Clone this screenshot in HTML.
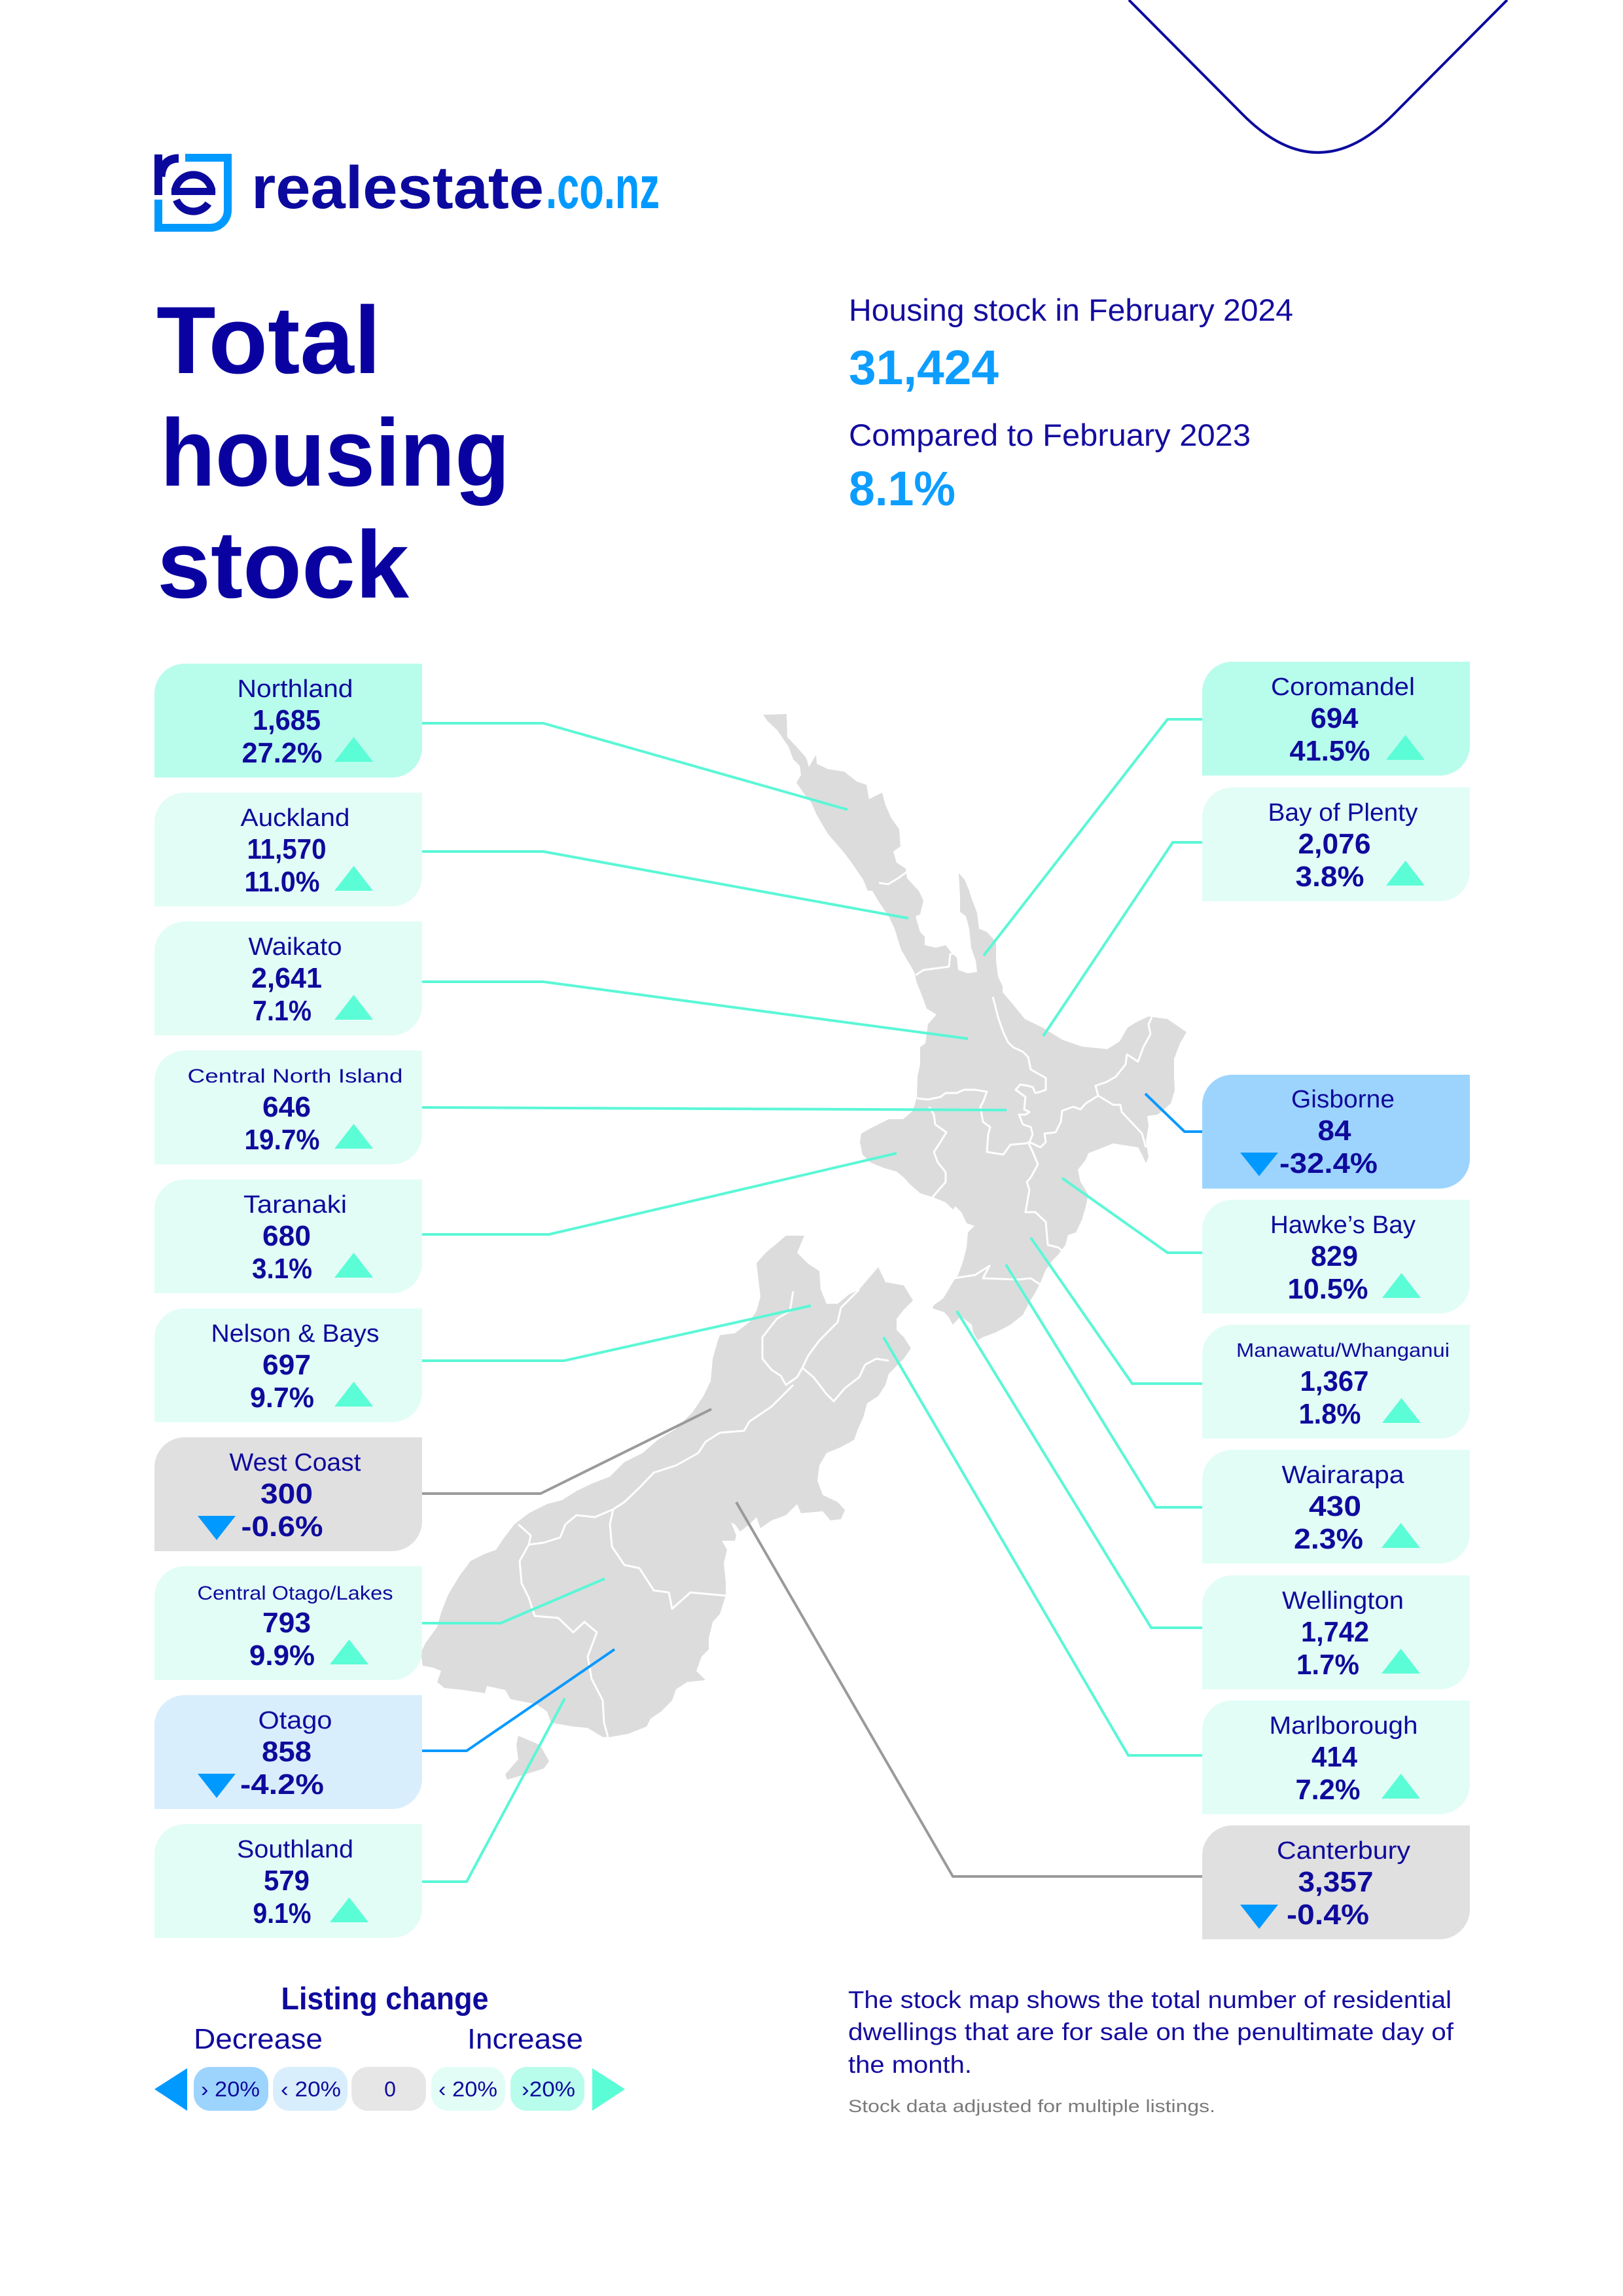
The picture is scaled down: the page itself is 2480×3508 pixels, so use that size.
<!DOCTYPE html>
<html><head><meta charset="utf-8"><style>
html,body{margin:0;padding:0;background:#fff;}
svg{display:block;}
text{font-family:"Liberation Sans",sans-serif;}
</style></head><body>
<svg xmlns="http://www.w3.org/2000/svg" width="2480" height="3508" viewBox="0 0 2480 3508">
<rect width="2480" height="3508" fill="#fff"/>
<!-- top V line -->
<path d="M1725,0 L1900,176 Q2014,290 2128,176 L2303,0" fill="none" stroke="#0c0a9e" stroke-width="4"/>
<!-- logo -->
<rect x="236" y="236" width="12" height="62" fill="#0c0a9e"/>
<path d="M246,270 C247,251 257,242 273,242" fill="none" stroke="#0c0a9e" stroke-width="13"/>
<path d="M267.5,295 A28,28 0 0 1 323.5,295" fill="none" stroke="#0c0a9e" stroke-width="11.5"/>
<rect x="262" y="287" width="67" height="11" fill="#0c0a9e"/>
<path d="M269.5,305.5 A28,28 0 0 0 318.4,311" fill="none" stroke="#0c0a9e" stroke-width="11.5"/>
<path d="M242,305 V348 H321 A27,27 0 0 0 348,321 V241 H283" fill="none" stroke="#0099ff" stroke-width="12"/>
<text x="384" y="318" font-size="92" font-weight="700" fill="#0c0a9e" textLength="447" lengthAdjust="spacingAndGlyphs">realestate</text>
<text x="834" y="318" font-size="92" font-weight="700" fill="#0099ff" textLength="174" lengthAdjust="spacingAndGlyphs">.co.nz</text>
<!-- title -->
<g font-weight="700" font-size="146" fill="#0a02a0">
<text x="239" y="570" textLength="343" lengthAdjust="spacingAndGlyphs">Total</text>
<text x="245" y="742" textLength="534" lengthAdjust="spacingAndGlyphs">housing</text>
<text x="240" y="913" textLength="385" lengthAdjust="spacingAndGlyphs">stock</text>
</g>
<!-- header stats -->
<text x="1297" y="490" font-size="47" fill="#140c9e" textLength="679" lengthAdjust="spacingAndGlyphs">Housing stock in February 2024</text>
<text x="1297" y="587" font-size="74" font-weight="700" fill="#0d9dff" textLength="229" lengthAdjust="spacingAndGlyphs">31,424</text>
<text x="1297" y="681" font-size="47" fill="#140c9e" textLength="614" lengthAdjust="spacingAndGlyphs">Compared to February 2023</text>
<text x="1297" y="772" font-size="74" font-weight="700" fill="#0d9dff" textLength="163" lengthAdjust="spacingAndGlyphs">8.1%</text>

<!-- MAP -->
<g fill="#dcdcdc">
<polygon points="1166,1092 1202,1091 1203,1126 1219,1143 1232,1158 1236,1172 1247,1153 1248,1167 1265,1175 1290,1179 1309,1194 1324,1199 1328,1221 1348,1211 1353,1230 1362,1250 1374,1267 1376,1293 1365,1301 1370,1318 1384,1327 1386,1342 1404,1361 1411,1376 1406,1397 1399,1400 1406,1424 1413,1431 1413,1444 1430,1448 1445,1444 1454,1456 1462,1463 1464,1482 1479,1487 1493,1485 1491,1468 1484,1448 1481,1419 1476,1400 1467,1393 1467,1371 1465,1334 1474,1344 1481,1361 1484,1371 1493,1395 1496,1419 1508,1424 1522,1439 1522,1468 1525,1492 1532,1507 1532,1516 1549,1536 1566,1557 1593,1570 1624,1589 1653,1599 1692,1603 1711,1591 1723,1570 1736,1562 1755,1553 1784,1557 1803,1570 1813,1577 1803,1594 1794,1618 1794,1645 1795,1666 1789,1686 1769,1703 1753,1705 1755,1720 1751,1744 1755,1768 1751,1777 1745,1764 1739,1753 1701,1747 1663,1762 1659,1772 1647,1787 1651,1806 1663,1825 1659,1844 1653,1864 1644,1883 1632,1887 1628,1902 1617,1917 1609,1925 1598,1940 1590,1959 1582,1975 1575,1986 1563,2009 1544,2024 1521,2036 1502,2043 1494,2048 1487,2036 1485,2024 1468,2011 1456,2024 1450,2013 1443,2005 1425,1999 1427,1994 1441,1984 1448,1973 1456,1959 1464,1948 1471,1929 1477,1906 1479,1883 1489,1873 1477,1869 1469,1852 1460,1843 1456,1848 1445,1837 1425,1829 1406,1823 1391,1810 1381,1799 1370,1790 1349,1784 1330,1776 1318,1764 1314,1745 1316,1732 1330,1724 1358,1710 1380,1710 1395,1697 1401,1676 1402,1645 1406,1626 1406,1600 1414,1594 1418,1565 1431,1550 1416,1541 1408,1519 1401,1502 1397,1485 1384,1463 1377,1451 1367,1419 1358,1400 1343,1378 1333,1361 1326,1361 1319,1344 1304,1322 1290,1303 1265,1274 1248,1245 1239,1225 1231,1216 1217,1196 1224,1184 1222,1170 1212,1160 1205,1141 1188,1116 1173,1102"/>
<polygon points="1201,1888 1229,1888 1218,1914 1235,1931 1252,1942 1254,1970 1263,1992 1280,1992 1297,1978 1313,1970 1342,1936 1353,1959 1381,1964 1395,1987 1381,2001 1370,2015 1370,2032 1381,2043 1392,2060 1381,2076 1358,2099 1353,2116 1342,2133 1325,2144 1319,2166 1311,2183 1305,2200 1285,2211 1263,2220 1252,2239 1249,2262 1257,2284 1280,2295 1291,2307 1285,2321 1269,2323 1257,2309 1224,2312 1218,2298 1201,2315 1179,2323 1162,2335 1156,2318 1145,2329 1131,2340 1123,2329 1117,2326 1125,2346 1123,2354 1103,2354 1111,2368 1106,2388 1109,2419 1109,2438 1106,2447 1100,2466 1089,2478 1083,2503 1083,2520 1072,2531 1064,2553 1078,2567 1050,2570 1033,2581 1027,2598 1010,2615 994,2626 988,2638 960,2649 932,2654 921,2654 898,2640 876,2638 842,2632 836,2615 820,2604 780,2596 772,2582 744,2576 741,2587 707,2582 679,2579 668,2570 674,2553 662,2548 646,2545 643,2525 651,2509 668,2486 674,2464 685,2436 702,2408 719,2385 741,2374 758,2368 769,2351 786,2329 808,2312 836,2298 859,2292 881,2278 904,2267 932,2256 954,2234 982,2220 1005,2200 1033,2183 1058,2158 1075,2133 1086,2110 1089,2076 1097,2048 1100,2040 1123,2037 1145,2020 1156,2003 1162,1981 1156,1930 1170,1914 1187,1900"/>
<polygon points="792,2652 825,2666 839,2691 831,2702 803,2711 775,2719 772,2711 792,2688 789,2666"/>
</g>
<g fill="none" stroke="#ffffff" stroke-width="3" stroke-linejoin="round">
<polyline points="1386,1332 1372,1342 1357,1351 1343,1349"/>
<polyline points="1399,1490 1411,1482 1450,1477 1452,1458 1459,1456"/>
<polyline points="1517,1523 1521,1538 1525,1554 1533,1577 1540,1592 1548,1600 1563,1607 1571,1615 1575,1634 1598,1647 1598,1665 1590,1668 1582,1670 1578,1661 1571,1659 1559,1657 1552,1665 1567,1676 1565,1695 1573,1699 1567,1703 1557,1703 1563,1718 1575,1722 1578,1733 1573,1745"/>
<polyline points="1401,1678 1418,1680 1437,1676 1445,1670 1462,1670 1473,1665 1490,1665 1508,1668 1502,1684 1498,1691 1502,1714 1513,1722 1510,1733 1508,1760 1533,1764 1544,1749 1567,1747 1573,1745 1590,1753 1598,1745 1596,1732 1613,1730 1621,1714 1623,1697 1640,1691 1651,1695 1659,1686 1678,1674 1674,1659 1691,1653 1705,1645 1720,1626 1722,1611 1739,1622 1747,1600 1758,1580 1755,1565 1760,1554"/>
<polyline points="1678,1674 1701,1688 1712,1688 1714,1699 1732,1718 1745,1732 1751,1753"/>
<polyline points="1420,1691 1427,1703 1429,1718 1446,1730 1437,1745 1427,1760 1433,1776 1445,1791 1445,1806 1425,1829"/>
<polyline points="1571,1745 1578,1760 1586,1779 1575,1799 1569,1806 1573,1818 1567,1852 1582,1852 1598,1867 1601,1902 1617,1906 1626,1913"/>
<polyline points="1458,1953 1490,1948 1512,1934 1502,1953 1556,1955 1575,1953 1590,1963"/>
<polyline points="1212,1973 1207,2003 1187,2015 1165,2043 1165,2076 1179,2093 1193,2102 1201,2116 1218,2104 1226,2090"/>
<polyline points="1226,2090 1235,2071 1252,2048 1280,2020 1285,1998 1313,1970"/>
<polyline points="1226,2090 1243,2104 1263,2130 1274,2141 1291,2121 1313,2104 1322,2085 1339,2076 1358,2079"/>
<polyline points="1212,2116 1179,2149 1145,2172 1137,2186 1100,2189 1078,2203 1067,2220 1033,2239 999,2250 977,2273 954,2295 937,2306 909,2318 881,2315 864,2329 856,2349 831,2357 808,2360"/>
<polyline points="808,2360 811,2346 792,2329"/>
<polyline points="937,2306 932,2329 935,2363 954,2391 977,2396 999,2430 1022,2433 1027,2458 1055,2433 1109,2438"/>
<polyline points="808,2360 794,2385 797,2419 808,2441 817,2469 853,2472 876,2494 893,2478 912,2494 898,2531 904,2565 921,2598 923,2632 929,2654"/>
</g>

<!-- connector lines -->
<g fill="none" stroke-width="4" stroke-linejoin="miter">
<g stroke="#5af7d6">
<path d="M645,1105 H830 L1295,1237"/>
<path d="M645,1301 H830 L1388,1403"/>
<path d="M645,1500 H830 L1479,1587"/>
<path d="M645,1692 L1538,1696"/>
<path d="M645,1886 H839 L1370,1762"/>
<path d="M645,2079 H862 L1239,1995"/>
<path d="M645,2480 H765 L924,2412"/>
<path d="M645,2875 H713 L863,2595"/>
<path d="M1837,1099 H1784 L1503,1460"/>
<path d="M1837,1287 H1792 L1594,1583"/>
<path d="M1837,1914 H1784 L1623,1800"/>
<path d="M1837,2114 H1730 L1575,1891"/>
<path d="M1837,2303 H1766 L1537,1932"/>
<path d="M1837,2487 H1759 L1462,2003"/>
<path d="M1837,2682 H1724 L1350,2043"/>
</g>
<g stroke="#9a9a9a">
<path d="M645,2282 H826 L1087,2153"/>
<path d="M1837,2867 H1456 L1125,2295"/>
</g>
<g stroke="#0a99ff">
<path d="M645,2675 H713 L939,2520"/>
<path d="M1837,1729 H1810 L1750,1671"/>
</g>
</g>

<!-- BOXES LEFT -->
<g fill="#0f0a9c">
<path d="M236,1060 A46,46 0 0 1 282,1014 H645 V1142 A46,46 0 0 1 599,1188 H236 Z" fill="#b8fcec"/>
<text x="451" y="1065" font-size="38" text-anchor="middle" textLength="177" lengthAdjust="spacingAndGlyphs">Northland</text>
<text x="438" y="1115" font-size="44" font-weight="700" text-anchor="middle" textLength="104" lengthAdjust="spacingAndGlyphs">1,685</text>
<text x="431" y="1165" font-size="44" font-weight="700" text-anchor="middle" textLength="123" lengthAdjust="spacingAndGlyphs">27.2%</text>
<polygon points="511,1164 570,1164 540.5,1126" fill="#5afdd6"/>

<path d="M236,1257 A46,46 0 0 1 282,1211 H645 V1339 A46,46 0 0 1 599,1385 H236 Z" fill="#e2fdf6"/>
<text x="451" y="1262" font-size="38" text-anchor="middle" textLength="167" lengthAdjust="spacingAndGlyphs">Auckland</text>
<text x="438" y="1312" font-size="44" font-weight="700" text-anchor="middle" textLength="121" lengthAdjust="spacingAndGlyphs">11,570</text>
<text x="431" y="1362" font-size="44" font-weight="700" text-anchor="middle" textLength="115" lengthAdjust="spacingAndGlyphs">11.0%</text>
<polygon points="511,1361 570,1361 540.5,1323" fill="#5afdd6"/>

<path d="M236,1454 A46,46 0 0 1 282,1408 H645 V1536 A46,46 0 0 1 599,1582 H236 Z" fill="#e2fdf6"/>
<text x="451" y="1459" font-size="38" text-anchor="middle" textLength="143" lengthAdjust="spacingAndGlyphs">Waikato</text>
<text x="438" y="1509" font-size="44" font-weight="700" text-anchor="middle" textLength="108" lengthAdjust="spacingAndGlyphs">2,641</text>
<text x="431" y="1559" font-size="44" font-weight="700" text-anchor="middle" textLength="90" lengthAdjust="spacingAndGlyphs">7.1%</text>
<polygon points="511,1558 570,1558 540.5,1520" fill="#5afdd6"/>

<path d="M236,1651 A46,46 0 0 1 282,1605 H645 V1733 A46,46 0 0 1 599,1779 H236 Z" fill="#e2fdf6"/>
<text x="451" y="1654" font-size="30" text-anchor="middle" textLength="329" lengthAdjust="spacingAndGlyphs">Central North Island</text>
<text x="438" y="1706" font-size="44" font-weight="700" text-anchor="middle" textLength="74" lengthAdjust="spacingAndGlyphs">646</text>
<text x="431" y="1756" font-size="44" font-weight="700" text-anchor="middle" textLength="115" lengthAdjust="spacingAndGlyphs">19.7%</text>
<polygon points="511,1755 570,1755 540.5,1717" fill="#5afdd6"/>

<path d="M236,1848 A46,46 0 0 1 282,1802 H645 V1930 A46,46 0 0 1 599,1976 H236 Z" fill="#e2fdf6"/>
<text x="451" y="1853" font-size="38" text-anchor="middle" textLength="158" lengthAdjust="spacingAndGlyphs">Taranaki</text>
<text x="438" y="1903" font-size="44" font-weight="700" text-anchor="middle" textLength="74" lengthAdjust="spacingAndGlyphs">680</text>
<text x="431" y="1953" font-size="44" font-weight="700" text-anchor="middle" textLength="92" lengthAdjust="spacingAndGlyphs">3.1%</text>
<polygon points="511,1952 570,1952 540.5,1914" fill="#5afdd6"/>

<path d="M236,2045 A46,46 0 0 1 282,1999 H645 V2127 A46,46 0 0 1 599,2173 H236 Z" fill="#e2fdf6"/>
<text x="451" y="2050" font-size="38" text-anchor="middle" textLength="257" lengthAdjust="spacingAndGlyphs">Nelson &amp; Bays</text>
<text x="438" y="2100" font-size="44" font-weight="700" text-anchor="middle" textLength="74" lengthAdjust="spacingAndGlyphs">697</text>
<text x="431" y="2150" font-size="44" font-weight="700" text-anchor="middle" textLength="98" lengthAdjust="spacingAndGlyphs">9.7%</text>
<polygon points="511,2149 570,2149 540.5,2111" fill="#5afdd6"/>

<path d="M236,2242 A46,46 0 0 1 282,2196 H645 V2324 A46,46 0 0 1 599,2370 H236 Z" fill="#e0e0e0"/>
<text x="451" y="2247" font-size="38" text-anchor="middle" textLength="201" lengthAdjust="spacingAndGlyphs">West Coast</text>
<text x="438" y="2297" font-size="44" font-weight="700" text-anchor="middle" textLength="80" lengthAdjust="spacingAndGlyphs">300</text>
<text x="431" y="2347" font-size="44" font-weight="700" text-anchor="middle" textLength="125" lengthAdjust="spacingAndGlyphs">-0.6%</text>
<polygon points="302,2316 360,2316 331,2353" fill="#0099ff"/>

<path d="M236,2439 A46,46 0 0 1 282,2393 H645 V2521 A46,46 0 0 1 599,2567 H236 Z" fill="#e2fdf6"/>
<text x="451" y="2444" font-size="30" text-anchor="middle" textLength="299" lengthAdjust="spacingAndGlyphs">Central Otago/Lakes</text>
<text x="438" y="2494" font-size="44" font-weight="700" text-anchor="middle" textLength="74" lengthAdjust="spacingAndGlyphs">793</text>
<text x="431" y="2544" font-size="44" font-weight="700" text-anchor="middle" textLength="100" lengthAdjust="spacingAndGlyphs">9.9%</text>
<polygon points="504,2543 563,2543 533.5,2505" fill="#5afdd6"/>

<path d="M236,2636 A46,46 0 0 1 282,2590 H645 V2718 A46,46 0 0 1 599,2764 H236 Z" fill="#d9eefc"/>
<text x="451" y="2641" font-size="38" text-anchor="middle" textLength="113" lengthAdjust="spacingAndGlyphs">Otago</text>
<text x="438" y="2691" font-size="44" font-weight="700" text-anchor="middle" textLength="76" lengthAdjust="spacingAndGlyphs">858</text>
<text x="431" y="2741" font-size="44" font-weight="700" text-anchor="middle" textLength="128" lengthAdjust="spacingAndGlyphs">-4.2%</text>
<polygon points="302,2710 360,2710 331,2747" fill="#0099ff"/>

<path d="M236,2833 A46,46 0 0 1 282,2787 H645 V2915 A46,46 0 0 1 599,2961 H236 Z" fill="#e2fdf6"/>
<text x="451" y="2838" font-size="38" text-anchor="middle" textLength="178" lengthAdjust="spacingAndGlyphs">Southland</text>
<text x="438" y="2888" font-size="44" font-weight="700" text-anchor="middle" textLength="70" lengthAdjust="spacingAndGlyphs">579</text>
<text x="431" y="2938" font-size="44" font-weight="700" text-anchor="middle" textLength="89" lengthAdjust="spacingAndGlyphs">9.1%</text>
<polygon points="504,2937 563,2937 533.5,2899" fill="#5afdd6"/>

<!-- BOXES RIGHT -->
<path d="M1837,1057 A46,46 0 0 1 1883,1011 H2246 V1139 A46,46 0 0 1 2200,1185 H1837 Z" fill="#b8fcec"/>
<text x="2052" y="1062" font-size="38" text-anchor="middle" textLength="220" lengthAdjust="spacingAndGlyphs">Coromandel</text>
<text x="2039" y="1112" font-size="44" font-weight="700" text-anchor="middle" textLength="73" lengthAdjust="spacingAndGlyphs">694</text>
<text x="2032" y="1162" font-size="44" font-weight="700" text-anchor="middle" textLength="123" lengthAdjust="spacingAndGlyphs">41.5%</text>
<polygon points="2118,1161 2177,1161 2147.5,1123" fill="#5afdd6"/>

<path d="M1837,1249 A46,46 0 0 1 1883,1203 H2246 V1331 A46,46 0 0 1 2200,1377 H1837 Z" fill="#e2fdf6"/>
<text x="2052" y="1254" font-size="38" text-anchor="middle" textLength="229" lengthAdjust="spacingAndGlyphs">Bay of Plenty</text>
<text x="2039" y="1304" font-size="44" font-weight="700" text-anchor="middle" textLength="111" lengthAdjust="spacingAndGlyphs">2,076</text>
<text x="2032" y="1354" font-size="44" font-weight="700" text-anchor="middle" textLength="105" lengthAdjust="spacingAndGlyphs">3.8%</text>
<polygon points="2118,1353 2177,1353 2147.5,1315" fill="#5afdd6"/>

<path d="M1837,1688 A46,46 0 0 1 1883,1642 H2246 V1770 A46,46 0 0 1 2200,1816 H1837 Z" fill="#9dd4fe"/>
<text x="2052" y="1692" font-size="38" text-anchor="middle" textLength="158" lengthAdjust="spacingAndGlyphs">Gisborne</text>
<text x="2039" y="1742" font-size="44" font-weight="700" text-anchor="middle" textLength="51" lengthAdjust="spacingAndGlyphs">84</text>
<text x="2030" y="1792" font-size="44" font-weight="700" text-anchor="middle" textLength="150" lengthAdjust="spacingAndGlyphs">-32.4%</text>
<polygon points="1895,1761 1953,1761 1924,1797" fill="#0099ff"/>

<path d="M1837,1879 A46,46 0 0 1 1883,1833 H2246 V1961 A46,46 0 0 1 2200,2007 H1837 Z" fill="#e2fdf6"/>
<text x="2052" y="1884" font-size="38" text-anchor="middle" textLength="222" lengthAdjust="spacingAndGlyphs">Hawke’s Bay</text>
<text x="2039" y="1934" font-size="44" font-weight="700" text-anchor="middle" textLength="72" lengthAdjust="spacingAndGlyphs">829</text>
<text x="2029" y="1984" font-size="44" font-weight="700" text-anchor="middle" textLength="123" lengthAdjust="spacingAndGlyphs">10.5%</text>
<polygon points="2112,1983 2171,1983 2141.5,1945" fill="#5afdd6"/>

<path d="M1837,2070 A46,46 0 0 1 1883,2024 H2246 V2152 A46,46 0 0 1 2200,2198 H1837 Z" fill="#e2fdf6"/>
<text x="2052" y="2073" font-size="30" text-anchor="middle" textLength="326" lengthAdjust="spacingAndGlyphs">Manawatu/Whanganui</text>
<text x="2039" y="2125" font-size="44" font-weight="700" text-anchor="middle" textLength="105" lengthAdjust="spacingAndGlyphs">1,367</text>
<text x="2032" y="2175" font-size="44" font-weight="700" text-anchor="middle" textLength="95" lengthAdjust="spacingAndGlyphs">1.8%</text>
<polygon points="2112,2174 2171,2174 2141.5,2136" fill="#5afdd6"/>

<path d="M1837,2261 A46,46 0 0 1 1883,2215 H2246 V2343 A46,46 0 0 1 2200,2389 H1837 Z" fill="#e2fdf6"/>
<text x="2052" y="2266" font-size="38" text-anchor="middle" textLength="187" lengthAdjust="spacingAndGlyphs">Wairarapa</text>
<text x="2040" y="2316" font-size="44" font-weight="700" text-anchor="middle" textLength="80" lengthAdjust="spacingAndGlyphs">430</text>
<text x="2030" y="2366" font-size="44" font-weight="700" text-anchor="middle" textLength="106" lengthAdjust="spacingAndGlyphs">2.3%</text>
<polygon points="2111,2365 2170,2365 2140.5,2327" fill="#5afdd6"/>

<path d="M1837,2453 A46,46 0 0 1 1883,2407 H2246 V2535 A46,46 0 0 1 2200,2581 H1837 Z" fill="#e2fdf6"/>
<text x="2052" y="2458" font-size="38" text-anchor="middle" textLength="186" lengthAdjust="spacingAndGlyphs">Wellington</text>
<text x="2040" y="2508" font-size="44" font-weight="700" text-anchor="middle" textLength="104" lengthAdjust="spacingAndGlyphs">1,742</text>
<text x="2029" y="2558" font-size="44" font-weight="700" text-anchor="middle" textLength="96" lengthAdjust="spacingAndGlyphs">1.7%</text>
<polygon points="2111,2557 2170,2557 2140.5,2519" fill="#5afdd6"/>

<path d="M1837,2644 A46,46 0 0 1 1883,2598 H2246 V2726 A46,46 0 0 1 2200,2772 H1837 Z" fill="#e2fdf6"/>
<text x="2053" y="2649" font-size="38" text-anchor="middle" textLength="227" lengthAdjust="spacingAndGlyphs">Marlborough</text>
<text x="2039" y="2699" font-size="44" font-weight="700" text-anchor="middle" textLength="70" lengthAdjust="spacingAndGlyphs">414</text>
<text x="2029" y="2749" font-size="44" font-weight="700" text-anchor="middle" textLength="99" lengthAdjust="spacingAndGlyphs">7.2%</text>
<polygon points="2111,2748 2170,2748 2140.5,2710" fill="#5afdd6"/>

<path d="M1837,2835 A46,46 0 0 1 1883,2789 H2246 V2917 A46,46 0 0 1 2200,2963 H1837 Z" fill="#e0e0e0"/>
<text x="2053" y="2840" font-size="38" text-anchor="middle" textLength="204" lengthAdjust="spacingAndGlyphs">Canterbury</text>
<text x="2041" y="2890" font-size="44" font-weight="700" text-anchor="middle" textLength="115" lengthAdjust="spacingAndGlyphs">3,357</text>
<text x="2029" y="2940" font-size="44" font-weight="700" text-anchor="middle" textLength="126" lengthAdjust="spacingAndGlyphs">-0.4%</text>
<polygon points="1895,2910 1953,2910 1924,2947" fill="#0099ff"/>
</g>

<!-- LEGEND -->
<g fill="#0f0a9c">
<text x="588" y="3070" font-size="48" font-weight="700" text-anchor="middle" textLength="317" lengthAdjust="spacingAndGlyphs">Listing change</text>
<text x="296" y="3130" font-size="44" textLength="197" lengthAdjust="spacingAndGlyphs">Decrease</text>
<text x="714" y="3130" font-size="44" textLength="177" lengthAdjust="spacingAndGlyphs">Increase</text>
</g>
<polygon points="236,3192 286,3160 286,3225" fill="#0099ff"/>
<polygon points="905,3160 905,3225 955,3192" fill="#5afdd6"/>
<rect x="296" y="3158" width="114" height="67" rx="25" fill="#9dd4fe"/>
<rect x="417" y="3158" width="114" height="67" rx="25" fill="#d9eefc"/>
<rect x="537" y="3158" width="114" height="67" rx="25" fill="#e6e6e6"/>
<rect x="659" y="3158" width="113" height="67" rx="25" fill="#e2fdf6"/>
<rect x="780" y="3158" width="113" height="67" rx="25" fill="#b8fcec"/>
<g fill="#0f0a9c" font-size="32">
<text x="307" y="3203" textLength="90" lengthAdjust="spacingAndGlyphs">› 20%</text>
<text x="429" y="3203" textLength="92" lengthAdjust="spacingAndGlyphs">‹ 20%</text>
<text x="596" y="3203" text-anchor="middle">0</text>
<text x="670" y="3203" textLength="90" lengthAdjust="spacingAndGlyphs">‹ 20%</text>
<text x="797" y="3203" textLength="82" lengthAdjust="spacingAndGlyphs">›20%</text>
</g>

<!-- FOOTNOTE -->
<g fill="#140c9e" font-size="37">
<text x="1296" y="3068" textLength="922" lengthAdjust="spacingAndGlyphs">The stock map shows the total number of residential</text>
<text x="1296" y="3117" textLength="925" lengthAdjust="spacingAndGlyphs">dwellings that are for sale on the penultimate day of</text>
<text x="1296" y="3167" textLength="189" lengthAdjust="spacingAndGlyphs">the month.</text>
</g>
<text x="1296" y="3227" font-size="27" fill="#7a7a7a" textLength="561" lengthAdjust="spacingAndGlyphs">Stock data adjusted for multiple listings.</text>
</svg>
</body></html>
